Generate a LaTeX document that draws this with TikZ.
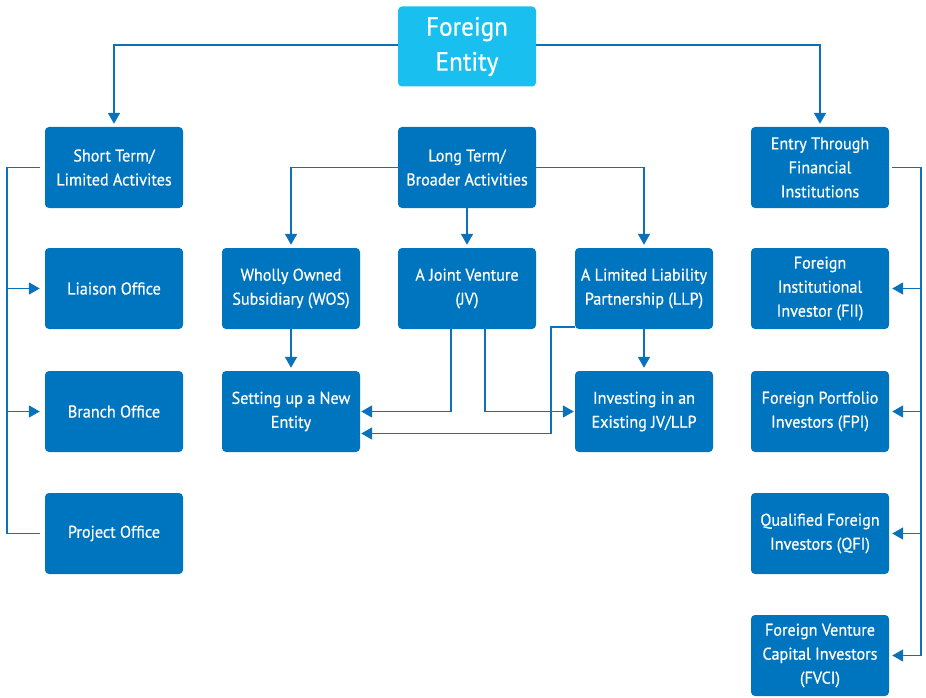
\documentclass[tikz,border=0pt]{standalone}
\usepackage{fontspec}
\setmainfont{PT Sans}[FakeBold=0.6, FakeStretch=0.95]
\usetikzlibrary{arrows.meta}
\definecolor{boxblue}{HTML}{0075BF}
\definecolor{topcyan}{HTML}{19BFEF}
\definecolor{lineblue}{HTML}{0A72BA}
\tikzset{
  fbox/.style={fill=boxblue, rounded corners=4pt, minimum width=138pt, minimum height=81pt,
    text=white, align=center, inner sep=0pt, font=\fontsize{17pt}{24pt}\selectfont},
  topbox/.style={fbox, fill=topcyan, minimum height=80pt, font=\fontsize{26.5pt}{35pt}\selectfont},
  ln/.style={draw=lineblue, line width=1.7pt},
  arr/.style={ln, -{Triangle[length=11pt,width=12pt]}, shorten >=3pt}
}
\begin{document}
\begin{tikzpicture}[x=1pt,y=-1pt]
\useasboundingbox (0,0) rectangle (926,698);
\node[topbox] (fe) at (467,46.5) {Foreign\\Entity};
\node[fbox] (st) at (114,167.5) {Short Term/\\Limited Activites};
\node[fbox] (lt) at (467,167.5) {Long Term/\\Broader Activities};
\node[fbox] (et) at (820,167.5) {Entry Through\\Financial\\Institutions};
\node[fbox] (lo) at (114,288.5) {Liaison Office};
\node[fbox] (bo) at (114,411.5) {Branch Office};
\node[fbox] (po) at (114,533.5) {Project Office};
\node[fbox] (wos) at (291,288.5) {Wholly Owned\\Subsidiary (WOS)};
\node[fbox] (jv) at (467,288.5) {A Joint Venture\\(JV)};
\node[fbox] (llp) at (644,288.5) {A Limited Liability\\Partnership (LLP)};
\node[fbox] (new) at (291,411.5) {Setting up a New\\Entity};
\node[fbox] (inv) at (644,411.5) {Investing in an\\Existing JV/LLP};
\node[fbox] (fii) at (820,288.5) {Foreign\\Institutional\\Investor (FII)};
\node[fbox] (fpi) at (820,411.5) {Foreign Portfolio\\Investors (FPI)};
\node[fbox] (qfi) at (820,533.5) {Qualified Foreign\\Investors (QFI)};
\node[fbox] (fvci) at (820,655.5) {Foreign Venture\\Capital Investors\\(FVCI)};
\coordinate (lb) at (7,0);
\coordinate (rb) at (921,0);
% top
\draw[arr] (fe.west |- 0,45) -| (st.north);
\draw[arr] (fe.east |- 0,45) -| (et.north);
% left group
\draw[ln, shorten <=5pt, shorten >=5pt] (st.west) -- (st.west -| lb) -- (po.west -| lb) -- (po.west);
\draw[arr, shorten >=5pt] (lo.west -| lb) -- (lo.west);
\draw[arr, shorten >=5pt] (bo.west -| lb) -- (bo.west);
% right group
\draw[arr, shorten <=3pt] (et.east) -- (et.east -| rb) |- (fvci.east);
\draw[arr] (fii.east -| rb) -- (fii.east);
\draw[arr] (fpi.east -| rb) -- (fpi.east);
\draw[arr] (qfi.east -| rb) -- (qfi.east);
% middle
\draw[arr] (lt.west) -| (wos.north);
\draw[arr] (lt.south) -- (jv.north);
\draw[arr] (lt.east) -| (llp.north);
\draw[arr] (wos.south) -- (new.north);
\draw[arr] (llp.south) -- (inv.north);
\draw[arr, shorten >=1pt] ([xshift=-16pt]jv.south) |- (new.east);
\draw[arr, shorten >=1pt] ([xshift=18pt]jv.south) |- (inv.west);
\draw[arr, shorten >=1pt] ([yshift=2pt]llp.south west) -- ++(-24,0) |- ([yshift=-22pt]new.east);
\end{tikzpicture}
\end{document}
